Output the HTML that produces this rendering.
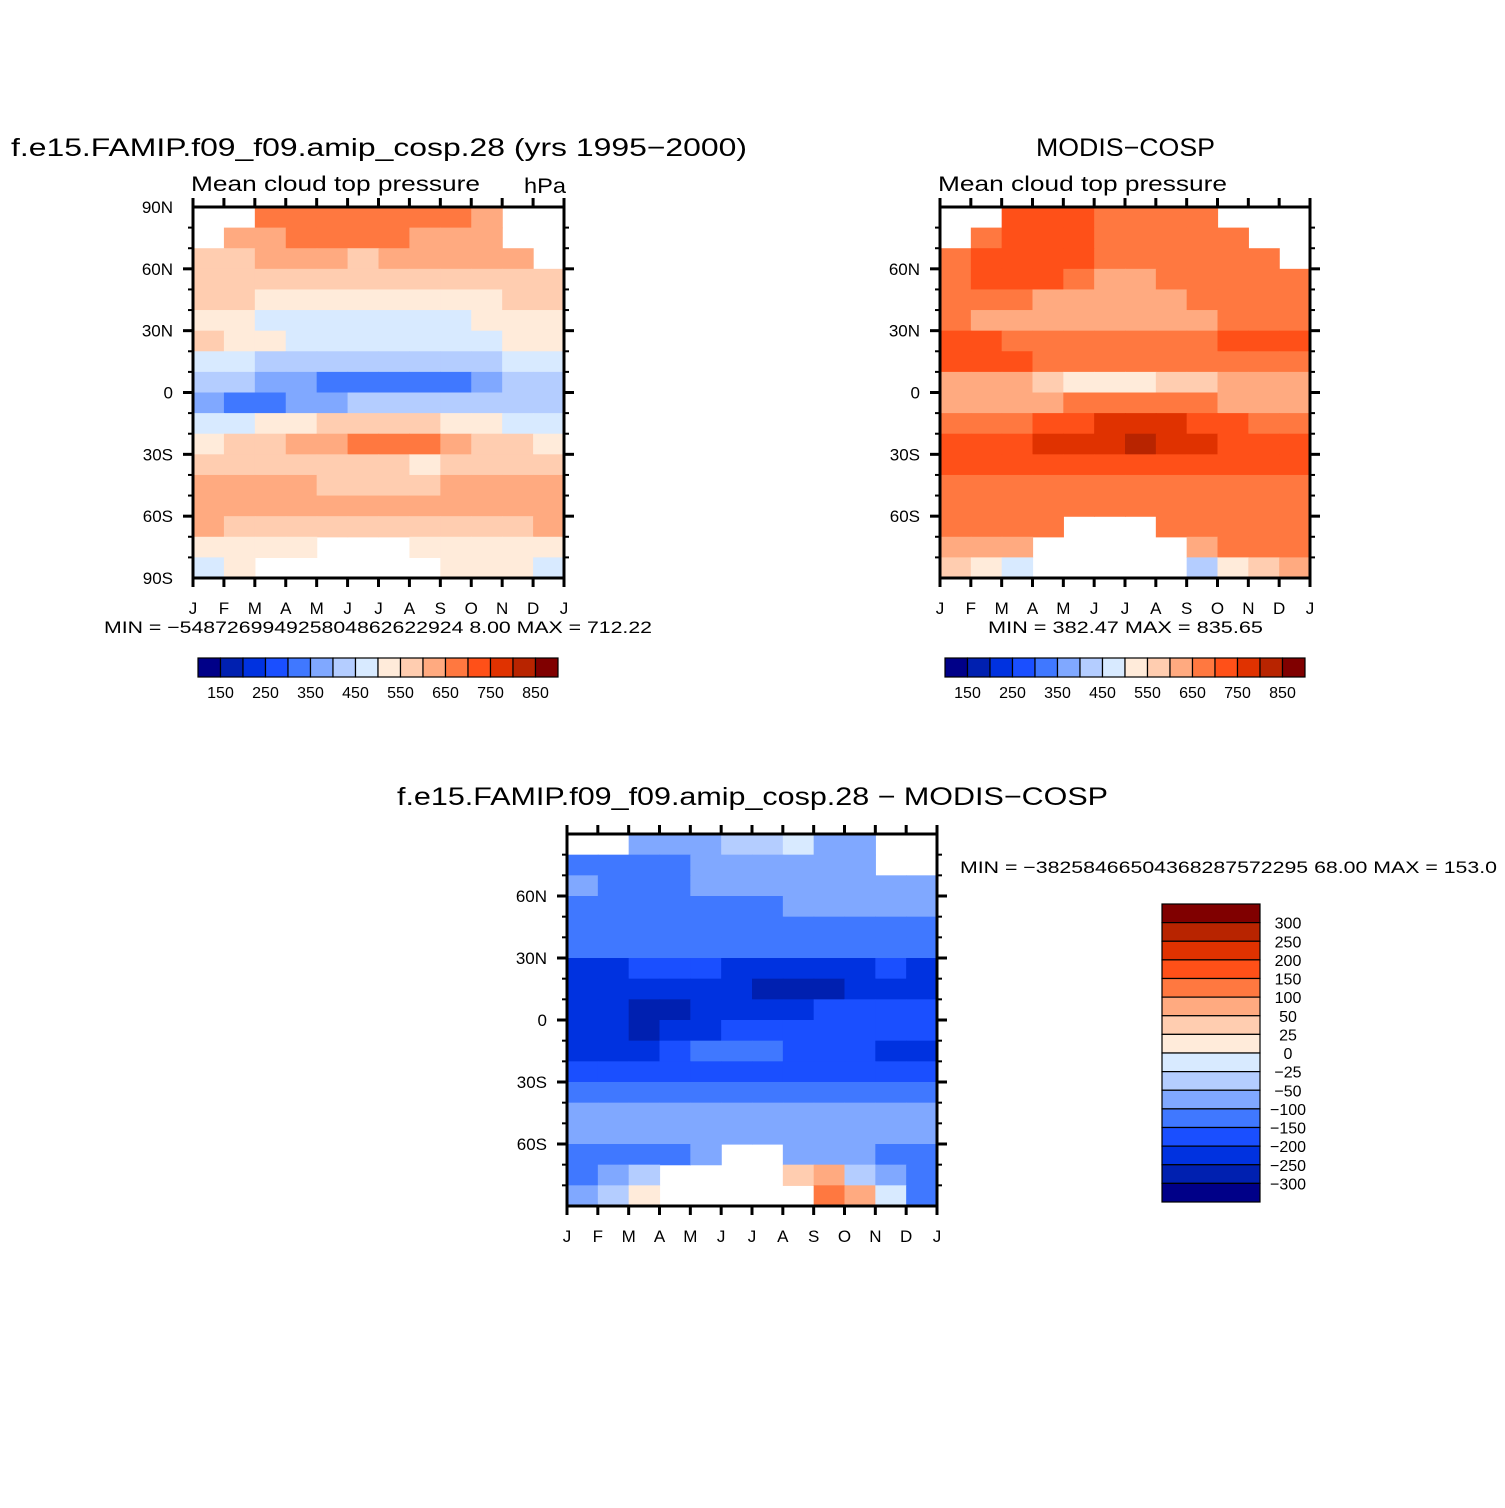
<!DOCTYPE html>
<html><head><meta charset="utf-8"><style>
body{margin:0;background:#fff}
svg{display:block;font-family:"Liberation Sans","DejaVu Sans",sans-serif}
</style></head><body>
<svg id="fig" width="1505" height="1508" viewBox="0 0 1505 1508" xmlns="http://www.w3.org/2000/svg">
<rect width="1505" height="1508" fill="#fff"/>
<text x="11" y="156" font-size="25" textLength="736" lengthAdjust="spacingAndGlyphs">f.e15.FAMIP.f09_f09.amip_cosp.28 (yrs 1995−2000)</text>
<text x="191" y="191" font-size="21" textLength="289" lengthAdjust="spacingAndGlyphs">Mean cloud top pressure</text>
<text x="524" y="193" font-size="21" textLength="42" lengthAdjust="spacingAndGlyphs">hPa</text>
<text x="1036" y="156" font-size="25" textLength="179" lengthAdjust="spacingAndGlyphs">MODIS−COSP</text>
<text x="938" y="191" font-size="21" textLength="289" lengthAdjust="spacingAndGlyphs">Mean cloud top pressure</text>
<text x="104" y="633" font-size="17" textLength="548" lengthAdjust="spacingAndGlyphs">MIN = −548726994925804862622924 8.00 MAX = 712.22</text>
<text x="988" y="633" font-size="17" textLength="275" lengthAdjust="spacingAndGlyphs">MIN = 382.47 MAX = 835.65</text>
<text x="397" y="805" font-size="25" textLength="711" lengthAdjust="spacingAndGlyphs">f.e15.FAMIP.f09_f09.amip_cosp.28 − MODIS−COSP</text>
<text x="960" y="873" font-size="17" textLength="537" lengthAdjust="spacingAndGlyphs">MIN = −38258466504368287572295 68.00 MAX = 153.0</text>
</svg>
<script>
const monthLabels=["J","F","M","A","M","J","J","A","S","O","N","D","J"];
const absLevels=[150,200,250,300,350,400,450,500,550,600,650,700,750,800,850];
const absLabels=["150","250","350","450","550","650","750","850"];
const diffLevels=[-300,-250,-200,-150,-100,-50,-25,0,25,50,100,150,200,250,300];
const diffLabels=["300","250","200","150","100","50","25","0","−25","−50","−100","−150","−200","−250","−300"];
const palette=["#000088","#0020b0","#0032e0","#1a4fff","#4078ff","#80a8ff","#b4cdff","#d8eaff","#ffebda","#ffcdb0","#ffaa80","#ff7840","#ff5018","#e03200","#b82400","#800000"];
const N=null;
const modelVals=[
[N,N,650,680,690,690,690,680,650,640,N,N],
[N,630,640,650,660,660,650,640,640,620,N,N],
[580,590,600,620,620,590,600,610,620,620,610,N],
[570,570,580,580,570,560,570,580,590,590,580,570],
[560,550,540,520,510,510,520,520,530,540,560,560],
[530,520,490,480,470,470,470,480,490,510,520,530],
[550,520,510,480,470,460,460,470,480,490,510,530],
[480,470,440,430,420,410,410,410,420,440,460,470],
[420,400,380,360,340,320,310,320,340,370,400,430],
[380,340,330,350,390,410,420,420,430,440,440,440],
[460,480,500,520,560,570,570,560,540,500,470,460],
[530,560,580,600,620,660,690,650,610,580,560,530],
[580,570,560,560,560,560,550,540,550,560,570,580],
[610,620,610,600,590,580,580,580,600,610,610,610],
[630,620,610,610,620,620,620,620,620,630,630,620],
[600,590,580,580,580,580,580,580,580,590,590,600],
[540,530,530,530,N,N,N,540,530,530,530,520],
[470,520,N,N,N,N,N,N,520,530,530,470]];
const obsVals=[
[N,N,700,720,720,690,680,680,690,N,N,N],
[N,680,720,720,710,690,680,680,690,680,N,N],
[680,700,720,720,700,690,680,680,680,680,680,N],
[690,720,720,710,690,620,630,680,680,680,680,680],
[680,680,690,640,620,620,630,630,660,680,680,680],
[680,640,630,620,630,620,640,640,640,660,680,680],
[710,720,690,680,670,670,670,680,690,710,710,720],
[720,740,710,680,670,670,670,670,680,690,690,690],
[630,620,600,560,540,530,540,560,590,610,620,630],
[620,600,630,640,660,660,660,660,650,640,630,620],
[680,690,690,700,740,760,770,760,720,700,680,690],
[720,720,730,750,770,790,810,770,750,740,730,720],
[720,720,720,720,720,730,730,730,720,720,720,720],
[690,690,690,690,690,690,690,690,690,690,690,690],
[690,690,690,690,690,690,690,690,690,690,690,690],
[690,690,690,690,N,N,N,690,690,690,690,690],
[640,640,600,N,N,N,N,N,620,650,670,670],
[560,540,480,N,N,N,N,N,440,500,560,600]];
const diffVals=[
[N,N,-70,-70,-60,-40,-30,-20,-60,-70,N,N],
[-110,-120,-110,-120,-90,-80,-70,-80,-80,-90,N,N],
[-90,-110,-120,-110,-100,-80,-80,-80,-90,-90,-90,-80],
[-120,-120,-120,-120,-120,-110,-110,-100,-100,-100,-100,-100],
[-130,-130,-130,-130,-130,-130,-130,-130,-120,-120,-110,-110],
[-140,-140,-140,-140,-140,-140,-140,-140,-140,-140,-130,-130],
[-210,-210,-190,-170,-190,-210,-240,-240,-220,-210,-200,-210],
[-210,-210,-220,-210,-220,-220,-260,-260,-260,-230,-210,-210],
[-220,-240,-270,-260,-230,-210,-210,-210,-200,-190,-190,-200],
[-210,-230,-270,-240,-210,-180,-190,-190,-190,-180,-180,-190],
[-210,-210,-210,-200,-150,-150,-150,-160,-180,-190,-210,-210],
[-190,-190,-190,-190,-180,-180,-180,-180,-180,-180,-180,-190],
[-130,-130,-130,-130,-140,-140,-140,-140,-140,-130,-130,-130],
[-80,-80,-90,-90,-90,-90,-90,-90,-90,-90,-80,-80],
[-60,-70,-80,-90,-90,-90,-90,-80,-60,-70,-70,-60],
[-120,-110,-110,-110,-100,N,N,-100,-90,-100,-110,-110],
[-110,-90,-40,N,N,N,N,40,60,-50,-90,-120],
[-80,-40,10,N,N,N,N,N,120,80,-20,-130]];
const latTicks=[90,60,30,0,-30,-60,-90];
const latLabels=["90N","60N","30N","0","30S","60S","90S"];

const NS="http://www.w3.org/2000/svg";
const svg=document.getElementById('fig');
function mk(tag,attrs,parent){const e=document.createElementNS(NS,tag);for(const k in attrs)e.setAttribute(k,attrs[k]);(parent||svg).appendChild(e);return e;}
function colorIdx(v,levels){let i=0;while(i<levels.length&&v>=levels[i])i++;return i;}

function panel(name,x0,y0,w,h,vals,levels,showLat){
  const g=mk('g',{});
  
  
  const xs=m=>x0+m*w/12;
  const ys=lat=>y0+(90-lat)*h/180;
  vals.forEach((row,r)=>{row.forEach((v,c)=>{
    if(v===null)return;
    const rc=mk('rect',{x:xs(c),y:ys(90-r*10),width:w/12+0.6,height:h/18+0.6,fill:palette[colorIdx(v,levels)]},g);
    
    
  });});
  mk('rect',{x:x0,y:y0,width:w,height:h,fill:'none',stroke:'#000','stroke-width':3},g);
  for(let m=0;m<=12;m++){
    mk('line',{x1:xs(m),x2:xs(m),y1:y0-9,y2:y0,stroke:'#000','stroke-width':3},g);
    mk('line',{x1:xs(m),x2:xs(m),y1:y0+h,y2:y0+h+9,stroke:'#000','stroke-width':3},g);
    const t=mk('text',{x:xs(m),y:y0+h+36,'font-size':17,'text-anchor':'middle'},g);
    
    
    t.textContent=monthLabels[m];
  }
  for(let lat=-80;lat<=80;lat+=10){
    const major=lat%30===0;const L=major?10:5;
    mk('line',{x1:x0-L,x2:x0,y1:ys(lat),y2:ys(lat),stroke:'#000','stroke-width':major?3:2},g);
    mk('line',{x1:x0+w,x2:x0+w+L,y1:ys(lat),y2:ys(lat),stroke:'#000','stroke-width':major?3:2},g);
  }
  latTicks.forEach((lat,i)=>{
    if(!showLat&&Math.abs(lat)===90)return;
    const t=mk('text',{x:x0-20,y:ys(lat)+6,'font-size':17,'text-anchor':'end'},g);
    
    
    t.textContent=latLabels[i];
  });
}
panel('model-panel',193,207,371,371,modelVals,absLevels,true);
panel('obs-panel',940,207,370,371,obsVals,absLevels,false);
panel('diff-panel',567,834,370,372,diffVals,diffLevels,false);

function hbar(name,x0,y0){
  const g=mk('g',{});
  
  
  const bw=22.5;
  palette.forEach((c,i)=>{mk('rect',{x:x0+i*bw,y:y0,width:bw,height:19,fill:c,stroke:'#000','stroke-width':1.2},g);});
  absLabels.forEach((l,i)=>{
    const t=mk('text',{x:x0+bw*(1+2*i),y:y0+40,'font-size':16,'text-anchor':'middle'},g);
    
    
    t.textContent=l;
  });
}
hbar('model-colorbar',198,658);
hbar('obs-colorbar',945,658);

(function(){
  const g=mk('g',{});
  
  
  const x0=1162,y0=904,bh=298/16;
  for(let i=0;i<16;i++){mk('rect',{x:x0,y:y0+i*bh,width:98,height:bh,fill:palette[15-i],stroke:'#000','stroke-width':1.2},g);}
  diffLabels.forEach((l,i)=>{
    const t=mk('text',{x:1288,y:y0+(i+1)*bh+6,'font-size':16,'text-anchor':'middle'},g);
    
    
    t.textContent=l;
  });
})();
</script>
</body></html>
